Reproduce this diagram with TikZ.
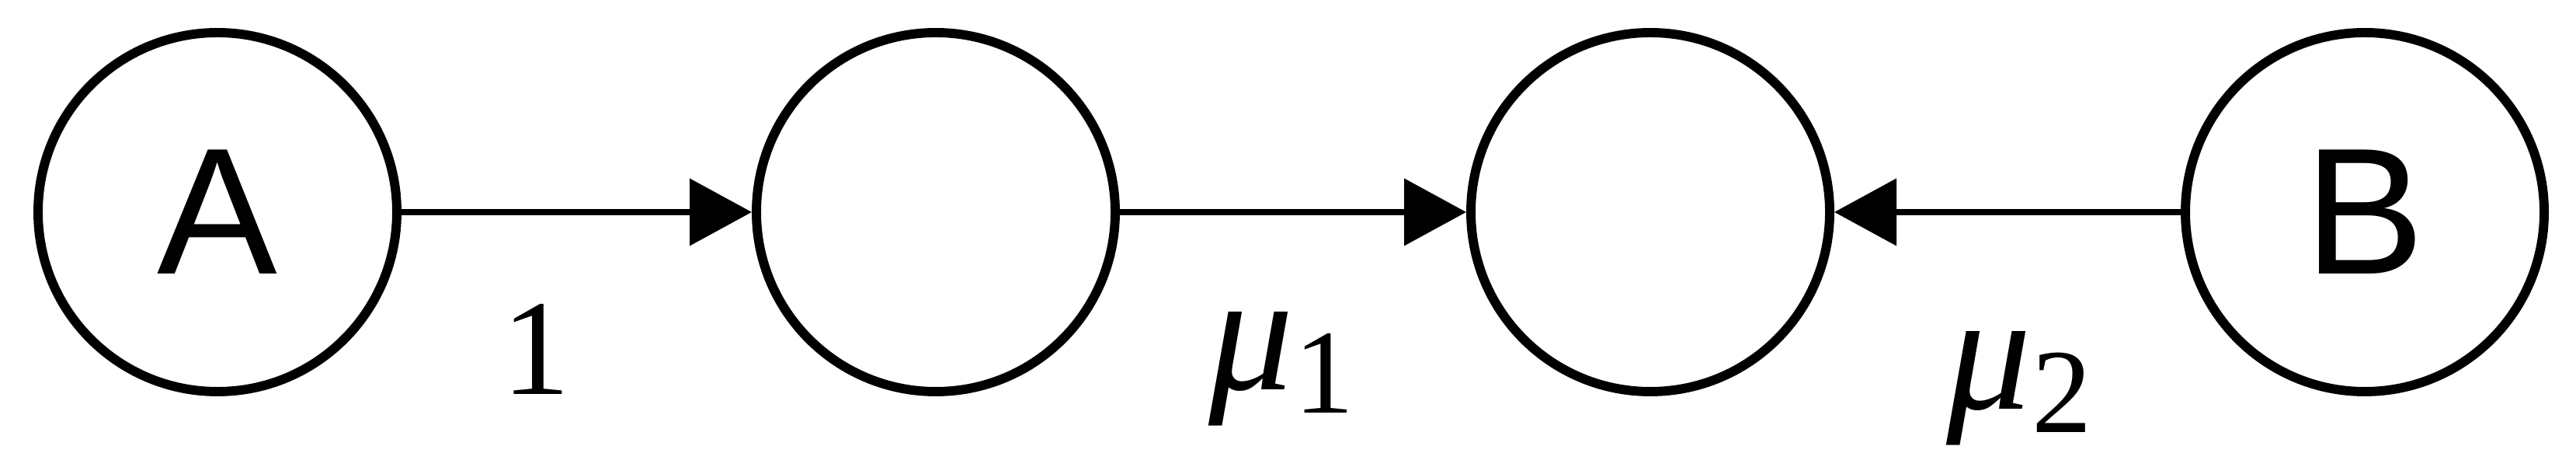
\documentclass[tikz,border=0pt]{standalone}
\usepackage{fontspec}
\newfontfamily\lsans{Liberation Sans}
\newfontfamily\lserif{Liberation Serif}
\usetikzlibrary{arrows.meta}
\begin{document}
\begin{tikzpicture}[
  state/.style={circle,draw,line width=3.4pt,minimum size=4.62cm,inner sep=0pt,font=\lsans\fontsize{66}{66}\selectfont},
  conn/.style={line width=2.2pt,-{Triangle[length=0.8cm,width=0.85cm]}},
  lbl/.style={font=\lserif\fontsize{50}{50}\selectfont}]
\useasboundingbox (0,0) rectangle (33.17,6.10);
\node[state] (a) at (2.80,3.37) {A};
\node[state] (b) at (12.05,3.37) {};
\node[state] (c) at (21.25,3.37) {};
\node[state] (d) at (30.45,3.37) {B};
\draw[conn] (a) -- (b);
\draw[conn] (b) -- (c);
\draw[conn] (d) -- (c);
\node[lbl] (l1) at (6.90,1.60) {1};
\node[lbl] (l2) at (16.50,1.35) {{\fontsize{62}{62}\selectfont\itshape μ}\raisebox{-0.3cm}{\fontsize{44}{44}\selectfont 1}};
\node[lbl] (l3) at (26.00,1.10) {{\fontsize{62}{62}\selectfont\itshape μ}\raisebox{-0.3cm}{\fontsize{44}{44}\selectfont 2}};
\end{tikzpicture}
\end{document}
